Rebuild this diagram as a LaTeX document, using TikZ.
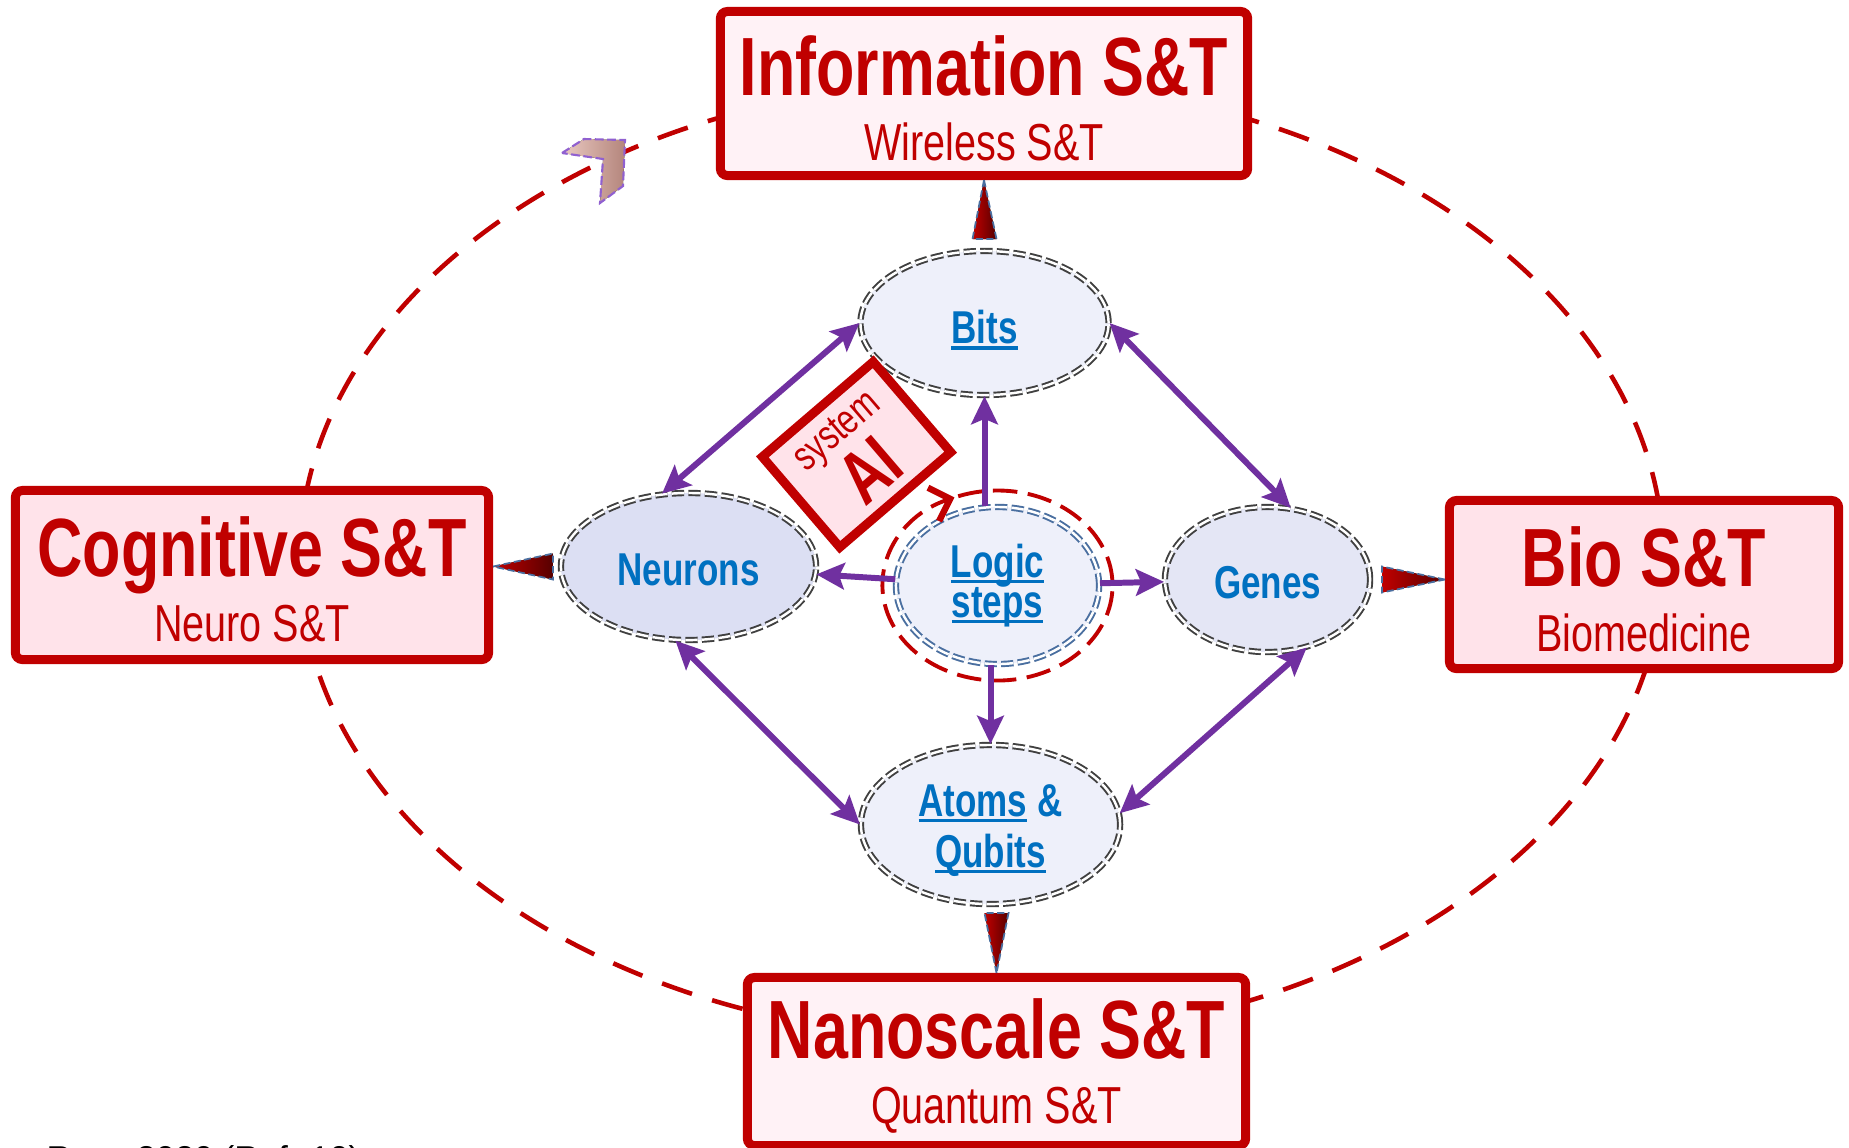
\documentclass[tikz,border=0pt]{standalone}
\usepackage{fontspec}
\setmainfont{Liberation Sans}
\newfontfamily\narrowsf[FakeStretch=0.76]{Liberation Sans}
\usetikzlibrary{shapes.geometric,arrows.meta,calc}

\definecolor{stred}{HTML}{C00000}
\definecolor{stpurple}{HTML}{7030A0}
\definecolor{stblue}{HTML}{0070C0}
\definecolor{palepink}{HTML}{FFF2F6}
\definecolor{rosepink}{HTML}{FFE3EA}
\definecolor{palelav}{HTML}{EEF0FA}
\definecolor{midlav}{HTML}{E4E6F5}
\definecolor{lav}{HTML}{DCDFF3}
\definecolor{glowedge}{HTML}{B2B4C4}
\definecolor{slateblue}{HTML}{4A6FA0}
\definecolor{chevlight}{HTML}{EACAC2}
\definecolor{chevdark}{HTML}{B4857C}
\definecolor{chevline}{HTML}{9060D0}

\pgfdeclareradialshading{glowpale}{\pgfpointorigin}{color(0bp)=(palelav); color(36bp)=(palelav); color(50bp)=(glowedge); color(70bp)=(glowedge)}
\pgfdeclareradialshading{glowmid}{\pgfpointorigin}{color(0bp)=(midlav); color(36bp)=(midlav); color(50bp)=(glowedge); color(70bp)=(glowedge)}
\pgfdeclareradialshading{glowlav}{\pgfpointorigin}{color(0bp)=(lav); color(36bp)=(lav); color(50bp)=(glowedge); color(70bp)=(glowedge)}

\newcommand\titlefont{\narrowsf\bfseries\fontsize{23.5}{28}\selectfont}
\newcommand\subfont{\narrowsf\fontsize{14.8}{18.5}\selectfont}
\newcommand\ellfont{\narrowsf\bfseries\fontsize{13.1}{14.5}\selectfont\lineskiplimit=-20pt}
\newcommand\logicfont{\narrowsf\bfseries\fontsize{13.1}{11.4}\selectfont\lineskiplimit=-20pt}
\newcommand\sysfont{\narrowsf\fontsize{11.8}{18.5}\selectfont\lineskiplimit=-20pt}
\newcommand\aifont{\narrowsf\bfseries\fontsize{21}{24}\selectfont}
\newcommand\ttl[1]{{\titlefont\rule{0pt}{19.5pt}#1}}
\newcommand\lift[1]{\rule{0pt}{#1}}
\newsavebox\ulbox
\newcommand\ulink[1]{\sbox\ulbox{#1}\rlap{\rule[-0.13em]{\wd\ulbox}{0.075em}}\usebox\ulbox}

\begin{document}
\begin{tikzpicture}[x=0.01cm, y=-0.01cm,
    stbox/.style={rectangle, draw=stred, line width=2.56pt, rounded corners=2pt, inner sep=0pt, align=center, text=stred, font=\subfont},
    ell/.style={ellipse, draw=black!75, double=white, double distance=0.7pt, line width=0.55pt, dash pattern=on 3.5pt off 1.2pt, shade, inner sep=0pt, align=center, text=stblue, font=\ellfont},
    aibox/.style={rectangle, draw=stred, line width=2.56pt, fill=rosepink, inner sep=0pt, align=center, text=stred, font=\sysfont, minimum width=1.46cm, minimum height=1.19cm},
    parrow/.style={draw=stpurple, line width=1.7pt, -{Stealth[length=8pt,width=7.5pt,inset=1.5pt]}},
    pboth/.style={parrow, {Stealth[length=8pt,width=7.5pt,inset=1.5pt]}-{Stealth[length=8pt,width=7.5pt,inset=1.5pt]}},
    tri/.style={draw=slateblue, line width=0.5pt, dash pattern=on 2pt off 1pt, left color=stred, right color=stred!45!black},
    bigdash/.style={draw=stred, line width=1.3pt, dash pattern=on 9pt off 6pt},
    reddash/.style={draw=stred, line width=1.1pt, dash pattern=on 7pt off 3pt},
    chev/.style={draw=chevline, line width=0.6pt, dash pattern=on 2.5pt off 1pt, left color=chevlight, right color=chevdark}]
  \useasboundingbox (0,0) rectangle (1849,1147);
  \fill[white] (0,0) rectangle (1849,1147);

  \draw[bigdash] (981.5,560) ellipse [x radius=682, y radius=479];
  \filldraw[chev] (562,153) -- (584,139) -- (625,140) -- (623,186) -- (600,203) -- (603,159) -- cycle;

  \node[stbox, fill=palepink, minimum width=5.27cm, minimum height=1.64cm] (info) at (984,93.5) {\ttl{Information S\&T}\\Wireless S\&T};
  \node[stbox, fill=rosepink, minimum width=4.73cm, minimum height=1.69cm] (cog) at (252,575) {\ttl{Cognitive S\&T}\\Neuro S\&T};
  \node[stbox, fill=rosepink, minimum width=3.89cm, minimum height=1.68cm] (bio) at (1644,584.5) {\ttl{Bio S\&T}\\Biomedicine};
  \node[stbox, fill=palepink, minimum width=4.98cm, minimum height=1.68cm] (nano) at (996.5,1061.5) {\ttl{Nanoscale S\&T}\\Quantum S\&T};

  \node[ell, shading=glowpale, minimum width=2.48cm, minimum height=1.44cm] (bits) at (984.5,323) {\lift{13.5pt}\ulink{Bits}};
  \node[ell, shading=glowlav, minimum width=2.55cm, minimum height=1.47cm] (neurons) at (688.5,566.5) {\lift{10.8pt}Neurons};
  \node[ell, shading=glowpale, draw=slateblue, font=\logicfont, minimum width=2.03cm, minimum height=1.57cm] (logic) at (997.5,585.5) {\ulink{Logic}\\\ulink{steps}};
  \node[ell, shading=glowmid, minimum width=2.05cm, minimum height=1.45cm] (genes) at (1267.5,579.5) {\lift{11pt}Genes};
  \node[ell, shading=glowpale, minimum width=2.59cm, minimum height=1.59cm] (atoms) at (990.5,824.5) {\lift{12.5pt}\ulink{Atoms} \&\\\ulink{Qubits}};

  \node[aibox, rotate=40.6] (ai) at (856.5,454.5) {system\\{\aifont AI}};

  \draw[reddash, -{Straight Barb[length=5pt,width=10pt,line width=1.8pt]}] ([shift={(-470:115 and 95)}]logic.center) arc [start angle=-470, end angle=-112, x radius=115, y radius=95];

  \draw[parrow] (logic.north -| bits.south) -- (bits.south);
  \draw[parrow] (logic) -- (neurons);
  \draw[parrow] (logic) -- (genes);
  \draw[parrow] (logic.south -| atoms.north) -- (atoms.north);
  \draw[pboth] (neurons.110) -- (bits.west);
  \draw[pboth] (bits.east) -- (genes.72);
  \draw[pboth] (neurons.260) -- (atoms.west);
  \draw[pboth] (genes.300) -- (atoms.5);

  \filldraw[tri] (info.south) -- ($(bits.north)+(-12,-11)$) -- ($(bits.north)+(12,-11)$) -- cycle;
  \filldraw[tri] (cog.east |- neurons.west) -- ($(neurons.west)+(-7,-13)$) -- ($(neurons.west)+(-7,13)$) -- cycle;
  \filldraw[tri] (bio.west |- genes.east) -- ($(genes.east)+(11,-13)$) -- ($(genes.east)+(11,13)$) -- cycle;
  \filldraw[tri] (nano.north) -- ($(atoms.south)+(-6,8)$) -- ($(atoms.south)+(18,8)$) -- cycle;

  \node[anchor=base west, inner sep=0pt, font=\fontsize{9.8}{11}\selectfont] (src) at (46,1170) {Roco 2020 (Ref. 10)};
\end{tikzpicture}
\end{document}
